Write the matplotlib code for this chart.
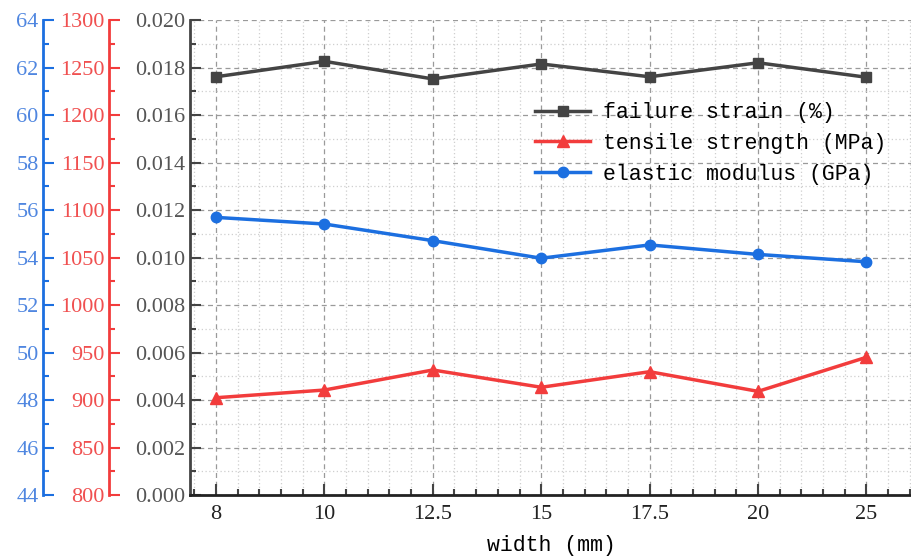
import matplotlib.pyplot as plt
from matplotlib.ticker import MultipleLocator

# data
widths = ['8', '10', '12.5', '15', '17.5', '20', '25']
failure_strain = [0.01761, 0.01826, 0.01752, 0.01815, 0.01761, 0.01820, 0.01759]
tensile_strength = [902.4, 910.5, 931.6, 913.4, 929.8, 909.1, 945.0]
elastic_modulus = [55.69, 55.41, 54.71, 53.97, 54.53, 54.13, 53.82]

c_black = '#444444'
c_red = '#f23c3c'
c_blue = '#1c6fe0'
font = 'Liberation Serif'
mono = 'Liberation Mono'

x = list(range(len(widths)))

fig = plt.figure(figsize=(9.12, 5.56), dpi=100)
ax = fig.add_axes([0.2083, 0.1097, 0.7917, 0.8543])
ax_red = ax.twinx()
ax_blue = ax.twinx()

# main (black) axis
l1, = ax.plot(x, failure_strain, color=c_black, lw=2.5, marker='s', ms=7.5, label='failure strain (%)')
ax.set_ylim(0, 0.020)
ax.set_xlim(-0.24, 6.42)
ax.set_xticks(x)
ax.set_xticklabels(widths)
ax.xaxis.set_minor_locator(MultipleLocator(0.2))
ax.yaxis.set_major_locator(MultipleLocator(0.002))
ax.yaxis.set_minor_locator(MultipleLocator(0.001))
ax.yaxis.set_major_formatter(plt.FuncFormatter(lambda v, p: '%.3f' % v))
ax.grid(True, which='major', ls=(0, (4, 3)), color='#9a9a9a', lw=0.9)
ax.grid(True, which='minor', ls=(0, (1, 2)), color='#cfcfcf', lw=0.9)
ax.set_axisbelow(True)
ax.tick_params(which='both', direction='in', colors=c_black, width=1.5)
ax.tick_params(which='major', length=8, labelsize=16, labelcolor='#555555')
ax.tick_params(which='minor', length=4)
ax.tick_params(axis='x', labelcolor='#222222', pad=7)
for s in ['top', 'right']:
    ax.spines[s].set_visible(False)
ax.spines['left'].set_color(c_black)
ax.spines['bottom'].set_color('#222222')
ax.spines['left'].set_linewidth(2)
ax.spines['bottom'].set_linewidth(2)
ax.set_xlabel('width (mm)', fontsize=15.5, family=mono, labelpad=8)

# red axis
l2, = ax_red.plot(x, tensile_strength, color=c_red, lw=2.5, marker='^', ms=9, label='tensile strength (MPa)')
ax_red.set_ylim(800, 1300)
ax_red.yaxis.set_major_locator(MultipleLocator(50))
ax_red.yaxis.set_minor_locator(MultipleLocator(25))

# blue axis
l3, = ax_blue.plot(x, elastic_modulus, color=c_blue, lw=2.5, marker='o', ms=7.5, label='elastic modulus (GPa)')
ax_blue.set_ylim(44, 64)
ax_blue.yaxis.set_major_locator(MultipleLocator(2))
ax_blue.yaxis.set_minor_locator(MultipleLocator(1))

for a, col, lab, off in [(ax_red, c_red, '#f05050', 58), (ax_blue, c_blue, '#4f86e0', 105.5)]:
    a.yaxis.set_ticks_position('left')
    a.yaxis.set_label_position('left')
    a.spines['left'].set_position(('outward', off))
    a.spines['left'].set_visible(True)
    a.spines['left'].set_color(col)
    a.spines['left'].set_linewidth(2)
    for s in ['top', 'right', 'bottom']:
        a.spines[s].set_visible(False)
    a.tick_params(which='both', direction='in', colors=col, width=1.5)
    a.tick_params(which='major', length=8, labelsize=16, labelcolor=lab)
    a.tick_params(which='minor', length=4)

for a in [ax, ax_red, ax_blue]:
    for t in a.get_xticklabels() + a.get_yticklabels():
        t.set_family(font)

ax_blue.legend(handles=[l1, l2, l3], loc='upper left', bbox_to_anchor=(0.478, 0.827),
               frameon=False, prop={'family': mono, 'size': 15.5}, handlelength=2.55,
               labelspacing=0.45, handletextpad=0.6, borderpad=0, borderaxespad=0)

fig.savefig('out.png', dpi=100)
